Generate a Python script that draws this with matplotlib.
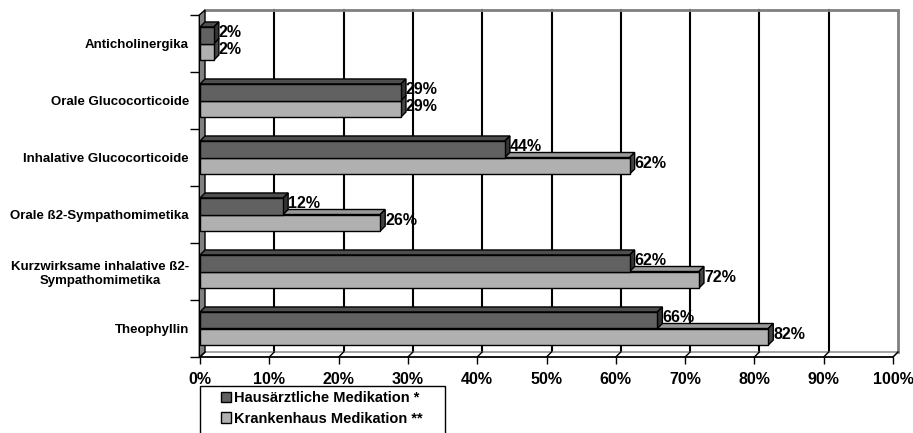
import numpy as np
import matplotlib
matplotlib.use("Agg")
import matplotlib.pyplot as plt
from matplotlib.patches import Polygon, Rectangle, Patch

plt.rcParams['font.family'] = ['Liberation Sans', 'DejaVu Sans']
plt.rcParams['font.weight'] = 'bold'

# --- Daten ---
kategorien = [
    "Anticholinergika",
    "Orale Glucocorticoide",
    "Inhalative Glucocorticoide",
    "Orale ß2-Sympathomimetika",
    "Kurzwirksame inhalative ß2-\nSympathomimetika",
    "Theophyllin",
]
hausarzt = [2, 29, 44, 12, 62, 66]
krankenhaus = [2, 29, 62, 26, 72, 82]
serien = ["Hausärztliche Medikation *", "Krankenhaus Medikation **"]
x_ticks = list(range(0, 101, 10))

# --- Farben ---
dunkel = dict(front="#616161", top="#4e4e4e", side="#333333")
hell = dict(front="#b0b0b0", top="#9a9a9a", side="#454545")
wand = "#808080"

W, H, DPI = 913, 433, 100
fig = plt.figure(figsize=(W / DPI, H / DPI), dpi=DPI)

# Vorderebene des Diagramms in Pixeln
left, right, top, bottom = 200, 893, 15, 357
ax = fig.add_axes([left / W, (H - bottom) / H, (right - left) / W, (bottom - top) / H])
n = len(kategorien)
ax.set_xlim(0, 100)
ax.set_ylim(n - 0.5, -0.5)

# Tiefe der 3D-Darstellung (Pixel -> Dateneinheiten)
depth_px = 5
DX = depth_px / (right - left) * 100
DY = depth_px / ((bottom - top) / n)

y0, y1 = -0.5, n - 0.5

# Rückwand: Gitterlinien und Rahmen
for xv in x_ticks[1:-1]:
    ax.plot([xv + DX, xv + DX], [y1 - DY, y0 - DY], color="black", lw=1.5, zorder=1, clip_on=False)
ax.plot([DX, 100 + DX, 100 + DX], [y0 - DY, y0 - DY, y1 - DY], color=wand, lw=2, zorder=1,
        clip_on=False, solid_joinstyle="miter")

# Boden
ax.add_patch(Polygon([(0, y1), (100, y1), (100 + DX, y1 - DY), (DX, y1 - DY)],
                     closed=True, facecolor="white", edgecolor=wand, lw=1, zorder=1, clip_on=False))
for xv in x_ticks:
    ax.plot([xv, xv + DX], [y1, y1 - DY], color="black", lw=1, zorder=2, clip_on=False)

# Linke Seitenwand
ax.add_patch(Polygon([(-0.1, y0), (DX, y0 - DY), (DX, y1 - DY), (-0.1, y1)],
                     closed=True, facecolor=wand, edgecolor="black", lw=1, zorder=2, clip_on=False))

# Balken mit Ober- und Seitenfläche
bh = 0.29


def balken(v, ytop, farben):
    ybot = ytop + bh
    ax.add_patch(Polygon([(0, ytop), (v, ytop), (v + DX, ytop - DY), (DX, ytop - DY)],
                         closed=True, facecolor=farben["top"], edgecolor="black", lw=1, zorder=3,
                         clip_on=False))
    ax.add_patch(Polygon([(v, ytop), (v, ybot), (v + DX, ybot - DY), (v + DX, ytop - DY)],
                         closed=True, facecolor=farben["side"], edgecolor="black", lw=1, zorder=3,
                         clip_on=False))
    ax.add_patch(Rectangle((0, ytop), v, bh, facecolor=farben["front"], edgecolor="black",
                           lw=1, zorder=3, clip_on=False))
    ax.text(v + DX, ytop + bh / 2 - DY / 2, f"{v}%", ha="left", va="center",
            fontsize=11.5, fontweight="bold", zorder=4)


for i in range(n):
    balken(krankenhaus[i], i, hell)
    balken(hausarzt[i], i - bh, dunkel)

# Achsen
for s in ["top", "right", "left"]:
    ax.spines[s].set_visible(False)
ax.spines["bottom"].set_linewidth(1.2)
ax.spines["bottom"].set_zorder(5)

ax.set_xticks(x_ticks)
ax.set_xticklabels([f"{t}%" for t in x_ticks], fontsize=11.5, fontweight="bold")
ax.tick_params(axis="x", length=5, width=1, pad=6)

ax.set_yticks(np.arange(n))
ax.set_yticklabels(kategorien, fontsize=9.5, fontweight="bold", multialignment="center")
ax.set_yticks(np.arange(n + 1) - 0.5, minor=True)
ax.tick_params(axis="y", which="major", length=0, pad=8)
ax.tick_params(axis="y", which="minor", length=7, width=1)

# Legende: Rahmen reicht über den unteren Bildrand hinaus
fig.add_artist(Rectangle((200 / W, -10 / H), 245 / W, (H - 386 + 10) / H,
                         transform=fig.transFigure, facecolor="white", edgecolor="black", lw=1))
handles = [Patch(facecolor=dunkel["front"], edgecolor="black", lw=1),
           Patch(facecolor=hell["front"], edgecolor="black", lw=1)]
leg = fig.legend(handles, serien, loc="upper left", bbox_to_anchor=(221 / W, (H - 391) / H),
                 prop=dict(size=10.5, weight="bold"), frameon=False,
                 handlelength=0.7, handleheight=0.7, handletextpad=0.2,
                 labelspacing=0.45, borderpad=0.0, borderaxespad=0)

fig.savefig("out.png", dpi=DPI)
